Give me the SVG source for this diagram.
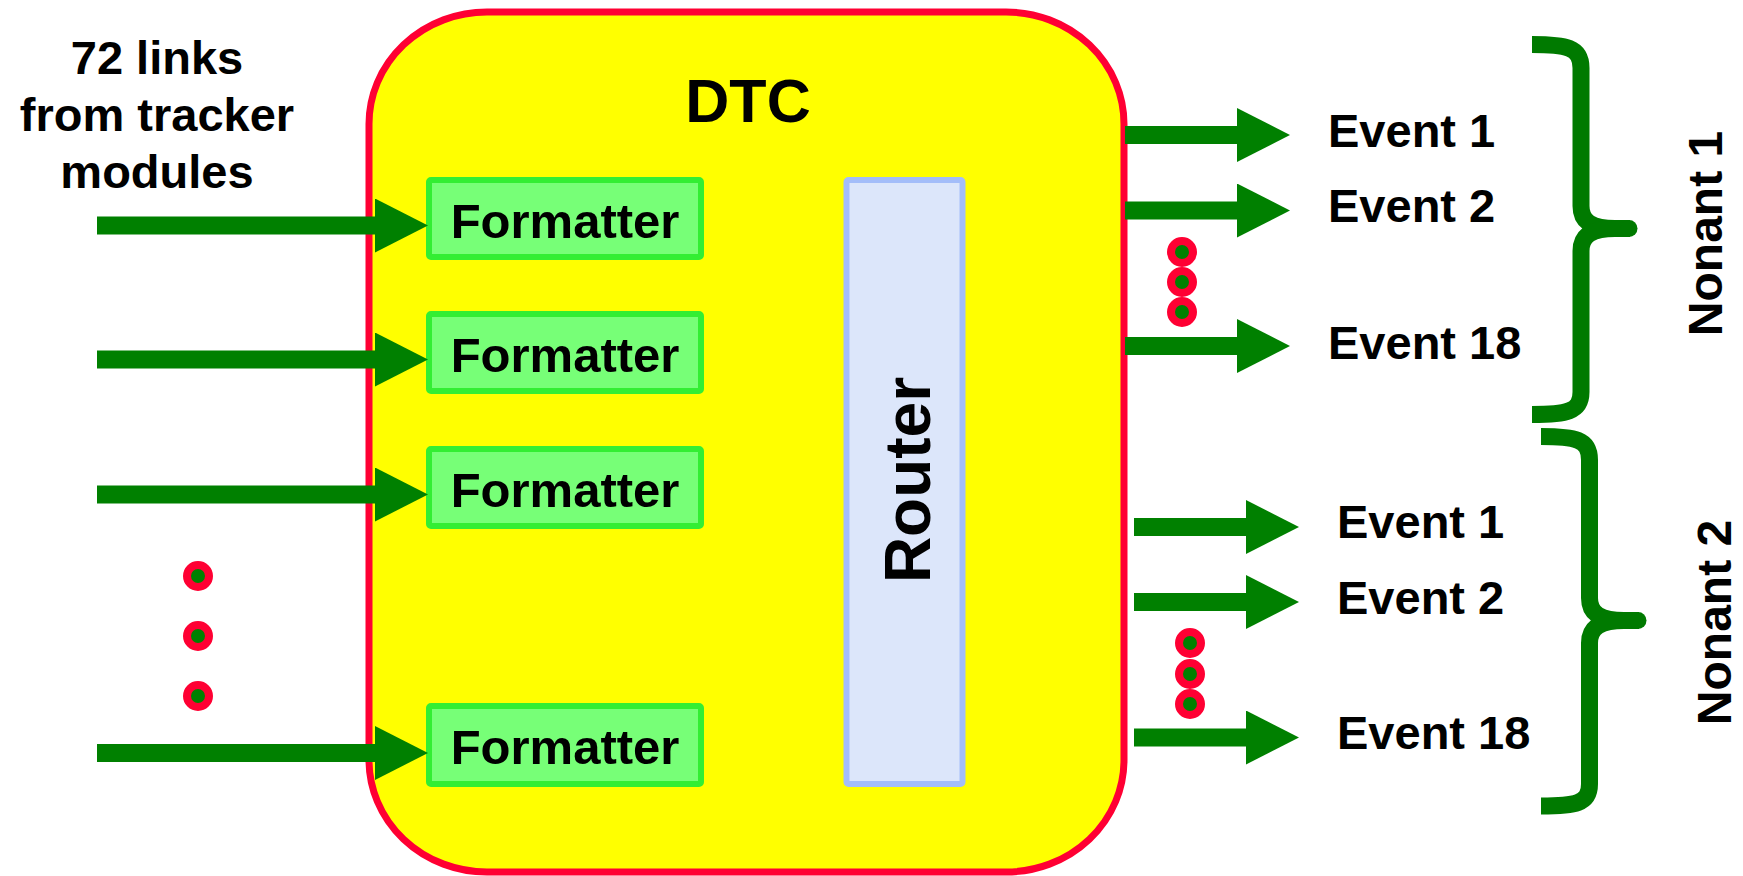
<svg xmlns="http://www.w3.org/2000/svg" width="1743" height="876" viewBox="0 0 1743 876">
<style>
.t{font-family:"Liberation Sans",Arial,sans-serif;font-weight:bold;fill:#000}
.fmt rect{fill:#77FF77;stroke:#33EE33;stroke-width:6}
.fmt text{font-size:49px;text-anchor:middle}
.ev{font-size:47px}
.arr{stroke:#008000;stroke-width:18;marker-end:url(#ah)}
.dot{fill:#008000;stroke:#FF0033;stroke-width:8}
.brace{fill:none;stroke:#007A00;stroke-width:17;stroke-linecap:butt}
</style>
<defs>
<marker id="ah" markerUnits="userSpaceOnUse" markerWidth="54" markerHeight="54" viewBox="0 0 54 54" refX="1" refY="27" orient="auto">
<path d="M0,0 L53,27 L0,54 Z" fill="#008000"/>
</marker>
</defs>
<rect width="1743" height="876" fill="#fff"/>
<g id="dtc">
<rect x="369" y="12" width="755" height="860" rx="118" ry="112" fill="#FFFF00" stroke="#FF0033" stroke-width="7"/>
<text class="t" x="748" y="122" font-size="61" text-anchor="middle">DTC</text>
</g>
<g id="formatter1" class="fmt"><rect x="429" y="180" width="272" height="77" rx="2"/><text class="t" x="565" y="238">Formatter</text></g>
<g id="formatter2" class="fmt"><rect x="429" y="314" width="272" height="77" rx="2"/><text class="t" x="565" y="372">Formatter</text></g>
<g id="formatter3" class="fmt"><rect x="429" y="449" width="272" height="77" rx="2"/><text class="t" x="565" y="507">Formatter</text></g>
<g id="formatter4" class="fmt"><rect x="429" y="706" width="272" height="78" rx="2"/><text class="t" x="565" y="764">Formatter</text></g>
<g id="router">
<rect x="846.5" y="180" width="116" height="604" rx="2" fill="#DCE6FA" stroke="#A3BDF9" stroke-width="6"/>
<text class="t" x="930" y="480" font-size="64" text-anchor="middle" transform="rotate(-90 930 480)">Router</text>
</g>
<g id="input-label">
<text class="t" font-size="47" text-anchor="middle"><tspan x="157" y="74">72 links</tspan><tspan x="157" y="131">from tracker</tspan><tspan x="157" y="188">modules</tspan></text>
</g>
<g id="connectors">
<line class="arr" x1="97" y1="225.5" x2="376" y2="225.5"/>
<line class="arr" x1="97" y1="359.5" x2="376" y2="359.5"/>
<line class="arr" x1="97" y1="494.5" x2="376" y2="494.5"/>
<line class="arr" x1="97" y1="753" x2="376" y2="753"/>
<line class="arr" x1="1125" y1="135" x2="1238" y2="135"/>
<line class="arr" x1="1125" y1="210.5" x2="1238" y2="210.5"/>
<line class="arr" x1="1125" y1="346" x2="1238" y2="346"/>
<line class="arr" x1="1134" y1="527" x2="1247" y2="527"/>
<line class="arr" x1="1134" y1="602" x2="1247" y2="602"/>
<line class="arr" x1="1134" y1="737.5" x2="1247" y2="737.5"/>
</g>
<g id="dots-input"><circle class="dot" cx="198" cy="576" r="11"/><circle class="dot" cx="198" cy="636" r="11"/><circle class="dot" cx="198" cy="696" r="11"/></g>
<g id="dots-nonant1"><circle class="dot" cx="1182" cy="252" r="11"/><circle class="dot" cx="1182" cy="282" r="11"/><circle class="dot" cx="1182" cy="312" r="11"/></g>
<g id="dots-nonant2"><circle class="dot" cx="1190" cy="643" r="11"/><circle class="dot" cx="1190" cy="674" r="11"/><circle class="dot" cx="1190" cy="704" r="11"/></g>
<g id="events-nonant1" class="t ev">
<text x="1328" y="147">Event 1</text>
<text x="1328" y="222">Event 2</text>
<text x="1328" y="359">Event 18</text>
</g>
<g id="events-nonant2" class="t ev">
<text x="1337" y="538">Event 1</text>
<text x="1337" y="614">Event 2</text>
<text x="1337" y="749">Event 18</text>
</g>
<g id="brace1">
<path class="brace" d="M1532,44.5 C1566,44.5 1581,47 1581,68 L1581,206 C1581,222 1592,228.5 1615,228.5 L1630,228.5"/>
<path class="brace" d="M1630,228.5 L1615,228.5 C1592,228.5 1581,235 1581,251 L1581,392 C1581,412 1566,414.5 1532,414.5"/>
<circle cx="1629" cy="228.5" r="8.5" fill="#007A00"/>
</g>
<g id="brace2">
<path class="brace" d="M1541,436.5 C1575,436.5 1589.5,439 1589.5,460 L1589.5,598 C1589.5,614 1601,620.5 1624,620.5 L1639,620.5"/>
<path class="brace" d="M1639,620.5 L1624,620.5 C1601,620.5 1589.5,627 1589.5,643 L1589.5,784 C1589.5,804 1575,806 1541,806"/>
<circle cx="1638" cy="620.5" r="8.5" fill="#007A00"/>
</g>
<g id="nonant1"><text class="t" x="1722" y="233.5" font-size="48" text-anchor="middle" transform="rotate(-90 1722 233.5)">Nonant 1</text></g>
<g id="nonant2"><text class="t" x="1731" y="622.5" font-size="48" text-anchor="middle" transform="rotate(-90 1731 622.5)">Nonant 2</text></g>
</svg>
